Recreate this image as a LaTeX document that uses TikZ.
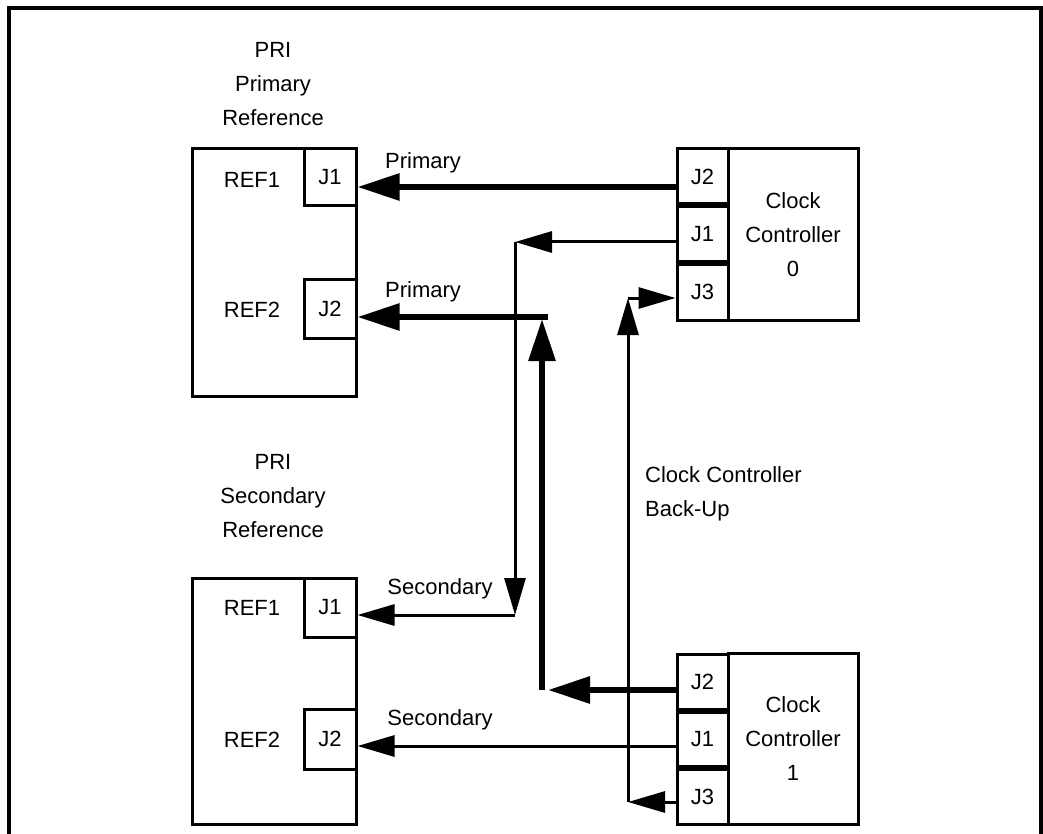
\documentclass[tikz,border=0pt]{standalone}
\usepackage{fontspec}
\setmainfont{Liberation Sans}
\usetikzlibrary{arrows.meta}
\tikzset{
  unit/.style={draw,line width=3pt,inner sep=0pt,align=center},
  port/.style={unit,minimum width=51pt},
  heavy/.style={line width=6pt,-{Triangle[length=42pt,width=26pt]}},
  light/.style={line width=3pt,-{Triangle[length=37pt,width=21pt]}},
  lbl/.style={inner sep=0pt,align=center}
}
\begin{document}
\begin{tikzpicture}[x=1pt,y=-1pt,font=\fontsize{22}{34}\selectfont]
\path[use as bounding box] (0,0) rectangle (1043,834);
\draw[line width=3.5pt] (9,834) -- (9,8) -- (1041,8) -- (1041,834);
% primary reference
\node[unit,minimum width=164pt,minimum height=247pt] (pri) at (274,272.5) {};
\node[port,minimum width=52pt,minimum height=57pt] (pj1) at (330,177.5) {J1};
\node[port,minimum width=52pt,minimum height=59pt] (pj2) at (330,308.5) {J2};
\node[lbl] (pref1) at (252,180) {REF1};
\node[lbl] (pref2) at (252,310) {REF2};
\node[lbl] (ptitle) at (273,84) {PRI\\Primary\\Reference};
% secondary reference
\node[unit,minimum width=164pt,minimum height=246pt] (sec) at (274,701) {};
\node[port,minimum width=52pt,minimum height=59pt] (sj1) at (330,607.5) {J1};
\node[port,minimum width=52pt,minimum height=60pt] (sj2) at (330,739) {J2};
\node[lbl] (sref1) at (252,608) {REF1};
\node[lbl] (sref2) at (252,740) {REF2};
\node[lbl] (stitle) at (273,496) {PRI\\Secondary\\Reference};
% clock controllers
\node[unit,minimum width=130pt,minimum height=171pt] (cc0) at (793,234.5) {Clock\\Controller\\0};
\node[port,minimum height=55pt] (c0j2) at (702.5,176.5) {J2};
\node[port,minimum height=54pt] (c0j1) at (702.5,234) {J1};
\node[port,minimum height=56pt] (c0j3) at (702.5,292) {J3};
\node[unit,minimum width=130pt,minimum height=171pt] (cc1) at (793,738.5) {Clock\\Controller\\1};
\node[port,minimum height=55pt] (c1j2) at (702.5,681.5) {J2};
\node[port,minimum height=54pt] (c1j1) at (702.5,739) {J1};
\node[port,minimum height=55pt] (c1j3) at (702.5,796.5) {J3};
% links
\coordinate (s1) at ([yshift=-10.5pt]c0j2.west);
\draw[heavy] (s1) -- (s1 -| pj1.east);
\coordinate (s2) at ([yshift=-8pt]c0j1.west);
\coordinate (k1) at (515,242);
\coordinate (k2) at (515,615);
\draw[light] (s2) -- (k1);
\draw[light] (k1) -- (k2);
\draw[light] (k2) -- (k2 -| sj1.east);
\coordinate (s3) at ([yshift=-8.5pt]c1j2.west);
\coordinate (k3) at (548,690);
\coordinate (k4) at (542,690);
\coordinate (k5) at (542,319);
\coordinate (k6) at (548,317);
\draw[heavy] (s3) -- (k3);
\draw[heavy] (k4) -- (k5);
\draw[heavy] (k6) -- (k6 -| pj2.east);
\coordinate (s4) at ([yshift=-5.5pt]c1j3.west);
\coordinate (k7) at (628,802);
\coordinate (k8) at (628,298);
\draw[light] (s4) -- (k7);
\draw[light] (k7) -- (k8);
\draw[light] (k8) -- (k8 -| c0j3.west);
\coordinate (s5) at ([yshift=-7pt]c1j1.west);
\draw[light] (s5) -- (s5 -| sj2.east);
% labels
\node[lbl] (lp1) at (423,163) {Primary};
\node[lbl] (lp2) at (423,292) {Primary};
\node[lbl] (ls1) at (440,589) {Secondary};
\node[lbl] (ls2) at (440,720) {Secondary};
\node[lbl,anchor=west,align=left] (lbk) at (645,494) {Clock Controller\\Back-Up};
\end{tikzpicture}
\end{document}
